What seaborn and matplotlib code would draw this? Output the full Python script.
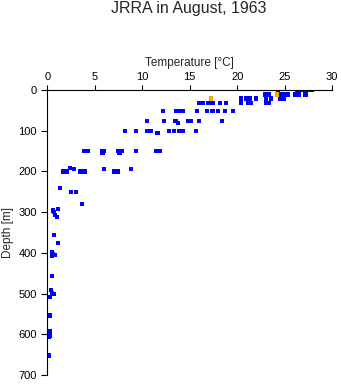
import matplotlib
matplotlib.use("Agg")
import matplotlib.pyplot as plt
import seaborn as sns
import pandas as pd

# Blue series: temperature [°C] and depth [m]
blue_temp = [24.3, 26.3, 26.7, 27.1, 27.5, 27.9,
             22.9, 23.4, 24.6, 25.0, 25.4, 26.1, 26.5, 27.2,
             20.4, 20.9, 21.3, 22.0, 23.0, 23.6, 24.5, 24.9,
             16.0, 16.4, 16.9, 17.4, 18.2, 18.8, 20.4, 21.1, 21.4, 23.1, 23.4,
             12.2, 13.6, 14.0, 14.3, 15.8, 16.8, 17.4, 18.0, 18.7, 19.6,
             10.5, 12.3, 13.5, 13.8, 14.8, 15.1, 16.0, 18.4,
             8.2, 9.3, 10.5, 10.9, 11.6, 12.8, 13.3, 13.9, 14.3, 15.7,
             3.9, 4.3, 5.8, 6.0, 7.4, 7.8, 9.3, 11.5, 11.9, 5.8, 7.6,
             6.0, 8.8,
             1.6, 2.0, 2.4, 2.8, 3.4, 3.9, 7.0, 7.4,
             1.3, 2.5, 3.0, 3.6,
             1.1, 0.6, 0.7, 0.8, 1.0,
             0.7, 1.1,
             0.5, 0.6, 0.8, 0.5,
             0.5,
             0.4, 0.5, 0.7, 0.3,
             0.3,
             0.3, 0.2, 0.3, 0.1,
             0.2]
blue_depth = [0, 0, 0, 0, 0, 0,
              11, 11, 11, 11, 11, 11, 11, 11,
              21, 21, 21, 21, 21, 21, 21, 21,
              31, 31, 31, 31, 31, 31, 31, 31, 31, 31, 31,
              51, 51, 51, 51, 51, 51, 51, 51, 51, 51,
              76, 76, 76, 81, 76, 76, 76, 76,
              100, 100, 100, 100, 105, 100, 100, 100, 100, 100,
              150, 150, 150, 150, 150, 150, 150, 150, 150, 155, 155,
              195, 195,
              200, 200, 192, 194, 200, 200, 200, 200,
              240, 250, 250, 280,
              293, 296, 300, 308, 311,
              357, 375,
              397, 403, 405, 408,
              456,
              492, 500, 502, 508,
              554,
              593, 600, 604, 606,
              652]

# Orange series
orange_temp = [17.2, 24.2]
orange_depth = [21, 11]

x_ticks = [0, 5, 10, 15, 20, 25, 30]
y_ticks = [0, 100, 200, 300, 400, 500, 600, 700]

df = pd.DataFrame({
    "temp": blue_temp + orange_temp,
    "depth": blue_depth + orange_depth,
    "kind": ["blue"] * len(blue_temp) + ["orange"] * len(orange_temp),
})

sns.set_style("ticks")
plt.rcParams["font.family"] = ["Liberation Sans", "DejaVu Sans"]

fig = plt.figure(figsize=(3.41, 3.84), dpi=100)
ax = fig.add_axes([47.5 / 341, 1 - 375 / 384, (332 - 47.5) / 341, (375 - 90) / 384])

sns.scatterplot(data=df, x="temp", y="depth", hue="kind",
                palette={"blue": "#0000ff", "orange": "#ffa500"},
                marker="s", s=9, linewidth=0, legend=False, ax=ax)

ax.set_xlim(0, 30)
ax.set_ylim(700, 0)
ax.set_xticks(x_ticks)
ax.set_yticks(y_ticks)
ax.xaxis.tick_top()
ax.xaxis.set_label_position("top")
for side in ["right", "bottom"]:
    ax.spines[side].set_visible(False)
for side in ["left", "top"]:
    ax.spines[side].set_linewidth(0.8)
    ax.spines[side].set_color("black")
ax.tick_params(axis="x", direction="out", length=3.6, width=0.8, pad=2.5,
               labelsize=8, colors="black")
ax.tick_params(axis="y", direction="out", length=4.3, width=0.8, pad=3.5,
               labelsize=8, colors="black")
ax.set_xlabel("Temperature [°C]", fontsize=8.5, labelpad=4)
ax.set_ylabel("Depth [m]", fontsize=8.5, labelpad=3)

fig.text(189 / 341, 1 - 8 / 384, "JRRA in August, 1963", ha="center",
         va="center", fontsize=11.5)

fig.savefig("out.png", dpi=100)
